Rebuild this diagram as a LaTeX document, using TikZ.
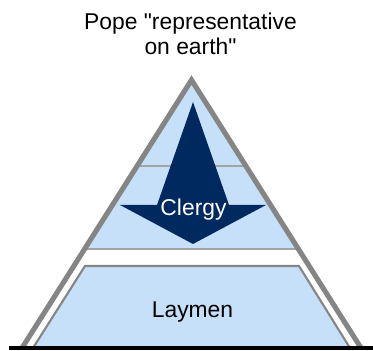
\documentclass[tikz,border=0pt]{standalone}
\usepackage{fontspec}
\setmainfont{Liberation Sans}
\definecolor{paleblue}{HTML}{C6E0F9}
\definecolor{navy}{HTML}{002960}
\definecolor{rimgray}{HTML}{858585}
\definecolor{thingray}{HTML}{A3A3A3}
\begin{document}
\begin{tikzpicture}[x=0.02cm,y=-0.02cm,
  label/.style={inner sep=0pt,font=\fontsize{13}{14.2}\selectfont},
  rim/.style={draw=rimgray,line width=2.9pt,line join=miter},
  tier/.style={fill=paleblue,draw=rimgray,line width=1.2pt}]
\useasboundingbox (0,0) rectangle (373,351);

\node[label,align=center,anchor=north] (pope) at (190.5,12.7)
  {Pope \textquotedbl representative\\on earth\textquotedbl};

% upper part of the pyramid
\fill[paleblue] (191.5,80) -- (84.5,249) -- (298.5,249) -- cycle;
\draw[thingray,line width=0.9pt] (137.5,166) -- (245.5,166);
\draw[thingray,line width=1.1pt] (84.5,249) -- (298.5,249);

\fill[navy] (193,102) -- (157,205) -- (120,205) -- (193,244)
  -- (266,205) -- (229,205) -- cycle;
\node[label,text=white,anchor=base] (clergy) at (193.5,216) {Clergy};

% lower part
\draw[tier] (33,348) -- (85,266) -- (299,266) -- (350,348);
\node[label,anchor=base] (laymen) at (192.5,318) {Laymen};

\draw[rim] (22,348) -- (191.5,80) -- (361,348);
\draw[black,line width=2.2pt] (9,348) -- (373,348);
\end{tikzpicture}
\end{document}
